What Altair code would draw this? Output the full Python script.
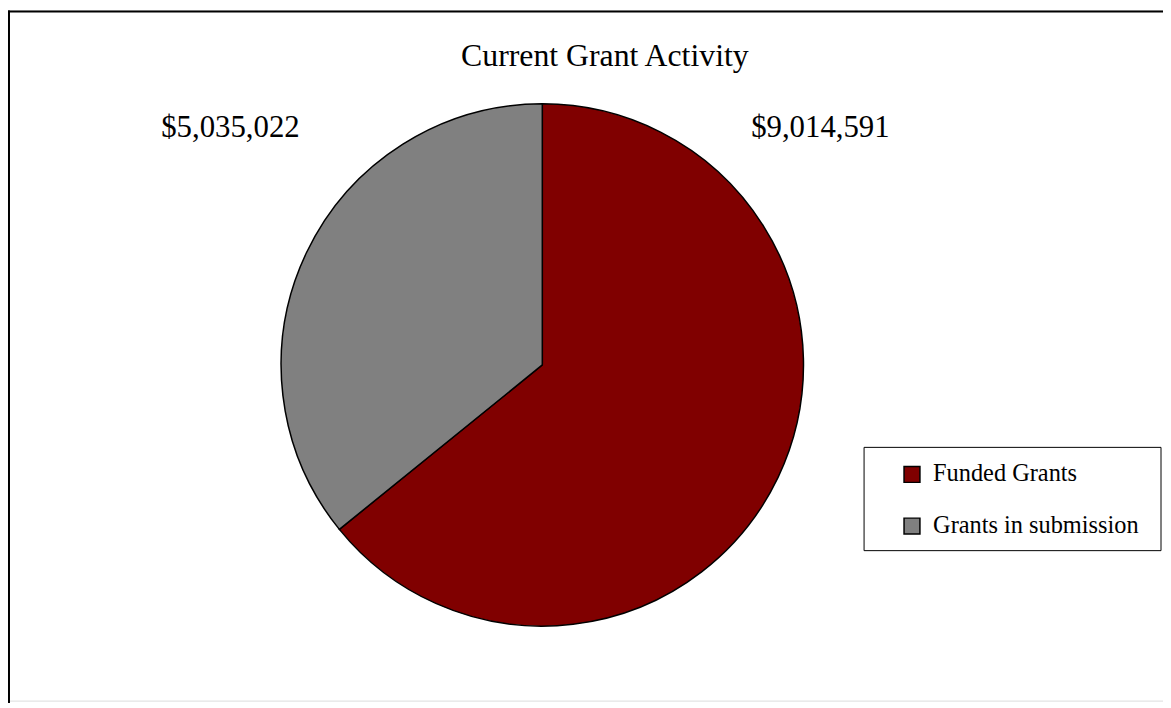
import altair as alt
import pandas as pd

categories = ["Funded Grants", "Grants in submission"]
amounts = [9014591, 5035022]
value_labels = ["$9,014,591", "$5,035,022"]
slice_order = [0, 1]
colors = ["#800000", "#808080"]
chart_title = "Current Grant Activity"

df = pd.DataFrame({
    "category": categories,
    "amount": amounts,
    "label": value_labels,
    "ord": slice_order,
})

FONT = "Liberation Serif"
W, H = 1163, 695
CX, CY, R = 538, 357, 263

base = alt.Chart(df)

pie = base.mark_arc(radius=R, stroke="black", strokeWidth=1.5).encode(
    theta=alt.Theta("amount:Q", stack=True),
    order=alt.Order("ord:Q"),
    color=alt.Color(
        "category:N",
        scale=alt.Scale(domain=categories, range=colors),
        legend=alt.Legend(
            title=None,
            orient="none",
            legendX=898,
            legendY=455,
            padding=0,
            symbolType="square",
            symbolSize=256,
            symbolStrokeColor="black",
            symbolStrokeWidth=1.5,
            symbolOpacity=1,
            labelFont=FONT,
            labelFontSize=24.5,
            labelColor="black",
            labelOffset=9,
            rowPadding=27,
            labelLimit=400,
        ),
    ),
    x=alt.value(CX),
    y=alt.value(CY),
)

label_pos = {"Funded Grants": (818, 127), "Grants in submission": (224, 127)}
label_layers = [
    base.transform_filter(alt.datum.category == cat)
    .mark_text(font=FONT, fontSize=31, color="black", align="center", baseline="alphabetic")
    .encode(text="label:N", x=alt.value(px), y=alt.value(py))
    for cat, (px, py) in label_pos.items()
]

title_df = pd.DataFrame({"t": [chart_title]})
title = alt.Chart(title_df).mark_text(
    font=FONT, fontSize=32, color="black", align="center", baseline="alphabetic"
).encode(text="t:N", x=alt.value(601), y=alt.value(56))

box_df = pd.DataFrame({"b": [1]})
legend_box = alt.Chart(box_df).mark_rect(fill="white", stroke="black", strokeWidth=1).encode(
    x=alt.value(862), x2=alt.value(1161), y=alt.value(440), y2=alt.value(544)
)

border_top = alt.Chart(box_df).mark_rule(color="black", strokeWidth=2).encode(
    x=alt.value(0), x2=alt.value(W + 10), y=alt.value(1)
)
border_left = alt.Chart(box_df).mark_rule(color="black", strokeWidth=2).encode(
    x=alt.value(1), y=alt.value(0), y2=alt.value(H + 20)
)

chart = alt.layer(
    border_top, border_left, legend_box, pie, *label_layers, title
).properties(
    width=W, height=H, autosize=alt.AutoSizeParams(type="none"), padding=0
).configure_view(stroke=None).configure(background="white")

chart.save("out.html", embed_options={"renderer": "svg", "actions": False})
